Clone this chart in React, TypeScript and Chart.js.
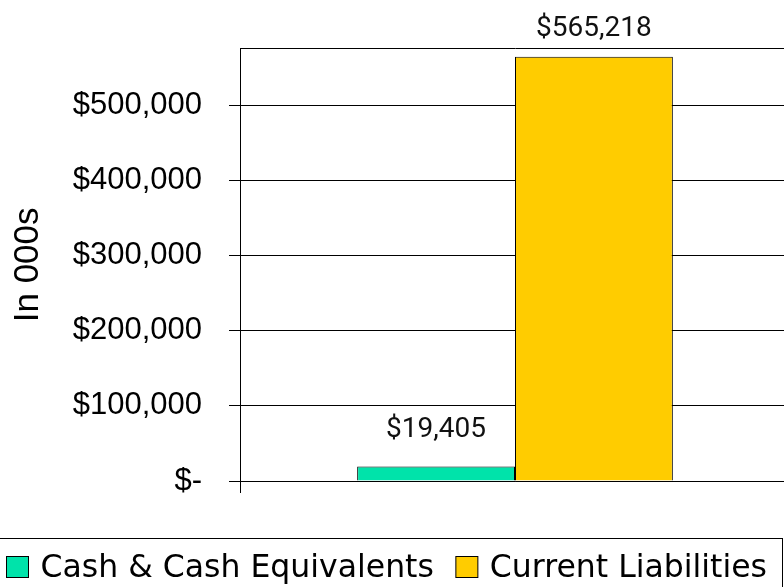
import React, { useEffect, useRef } from "react";
import { Chart, registerables } from "chart.js";

Chart.register(...registerables);

const CATEGORIES = [""];
const SERIES_NAMES = ["Cash & Cash Equivalents", "Current Liabilities"];
const CASH_VALUES = [19405];
const LIABILITY_VALUES = [565218];
const VALUE_LABELS = ["$19,405", "$565,218"];
const SERIES_COLORS = ["#00E3AA", "#FFCC00"];
const Y_TICK_VALUES = [0, 100000, 200000, 300000, 400000, 500000];
const Y_TICK_LABELS = ["$-", "$100,000", "$200,000", "$300,000", "$400,000", "$500,000"];
const Y_MAX = 576000;
const Y_TITLE = "In 000s";

const labelPlugin = {
  id: "valueLabels",
  afterDatasetsDraw(chart: any) {
    const ctx = chart.ctx;
    ctx.save();
    ctx.font = "28px Roboto";
    ctx.fillStyle = "#111";
    ctx.textAlign = "center";
    ctx.textBaseline = "alphabetic";
    const offsets = [29, 21];
    chart.data.datasets.forEach((ds: any, i: number) => {
      const meta = chart.getDatasetMeta(i);
      meta.data.forEach((bar: any) => {
        ctx.fillText(VALUE_LABELS[i], bar.x, bar.y - offsets[i]);
      });
    });
    ctx.restore();
  },
};

const decorPlugin = {
  id: "decor",
  afterDraw(chart: any) {
    const ctx = chart.ctx;
    const area = chart.chartArea;
    ctx.save();
    // y-axis title
    ctx.font = "35px 'Liberation Sans'";
    ctx.fillStyle = "#000";
    ctx.textAlign = "center";
    ctx.textBaseline = "alphabetic";
    ctx.translate(38, (area.top + area.bottom) / 2);
    ctx.rotate(-Math.PI / 2);
    ctx.fillText(Y_TITLE, 0, 0);
    ctx.restore();

    // legend
    ctx.save();
    ctx.strokeStyle = "#000";
    ctx.lineWidth = 1;
    ctx.strokeRect(-1.5, 538.5, 784, 100);
    ctx.font = "31.5px 'DejaVu Sans'";
    ctx.textBaseline = "alphabetic";
    ctx.textAlign = "left";
    let x = 6.5;
    SERIES_NAMES.forEach((name, i) => {
      ctx.fillStyle = SERIES_COLORS[i];
      ctx.fillRect(x, 556.5, 22, 21);
      ctx.strokeStyle = "#000";
      ctx.strokeRect(x, 556.5, 22, 21);
      x += 22 + 12;
      ctx.fillStyle = "#000";
      ctx.fillText(name, x, 577);
      x += ctx.measureText(name).width + 22;
    });
    ctx.restore();
  },
};

export default function App() {
  const ref = useRef<HTMLCanvasElement | null>(null);
  useEffect(() => {
    if (!ref.current) return;
    const chart = new Chart(ref.current, {
      type: "bar",
      data: {
        labels: CATEGORIES,
        datasets: [
          {
            label: SERIES_NAMES[0],
            data: CASH_VALUES,
            backgroundColor: SERIES_COLORS[0],
            borderColor: "#000",
            borderWidth: 1,
            categoryPercentage: 0.574,
            barPercentage: 1,
          },
          {
            label: SERIES_NAMES[1],
            data: LIABILITY_VALUES,
            backgroundColor: SERIES_COLORS[1],
            borderColor: "#000",
            borderWidth: 1,
            categoryPercentage: 0.574,
            barPercentage: 1,
          },
        ],
      },
      options: {
        responsive: false,
        animation: false,
        devicePixelRatio: 1,
        layout: { padding: { top: 48.7, left: 0, right: 10, bottom: 0 } },
        plugins: {
          legend: { display: false },
          tooltip: { enabled: false },
          title: { display: false },
        },
        scales: {
          x: {
            type: "category",
            offset: true,
            grid: {
              display: true,
              offset: true,
              drawOnChartArea: false,
              drawTicks: true,
              tickLength: 12,
              color: "#000",
              lineWidth: 1,
            },
            border: { display: true, color: "#000", width: 1 },
            ticks: { display: false },
            afterFit(scale: any) {
              scale.height = 106;
            },
          },
          y: {
            type: "linear",
            min: 0,
            max: Y_MAX,
            afterBuildTicks(scale: any) {
              scale.ticks = [...Y_TICK_VALUES, Y_MAX].map((v) => ({ value: v }));
            },
            afterFit(scale: any) {
              scale.width = 240;
            },
            grid: {
              color: "#000",
              lineWidth: 1,
              tickLength: 11,
              tickColor: (c: any) => (c.tick && c.tick.value === Y_MAX ? "rgba(0,0,0,0)" : "#000"),
            },
            border: { display: true, color: "#000", width: 1 },
            ticks: {
              padding: 27,
              color: "#000",
              font: { family: "'Liberation Sans'", size: 31 },
              callback: (value: any) => {
                const idx = Y_TICK_VALUES.indexOf(Number(value));
                return idx >= 0 ? Y_TICK_LABELS[idx] : "";
              },
            },
          },
        },
      },
      plugins: [labelPlugin, decorPlugin],
    });
    return () => chart.destroy();
  }, []);
  return (
    <div
      style={{
        position: "fixed",
        left: 0,
        top: 0,
        width: 784,
        height: 587,
        overflow: "hidden",
        background: "#fff",
      }}
    >
      <canvas ref={ref} width={800} height={587} style={{ display: "block", width: 800, height: 587 }} />
    </div>
  );
}
